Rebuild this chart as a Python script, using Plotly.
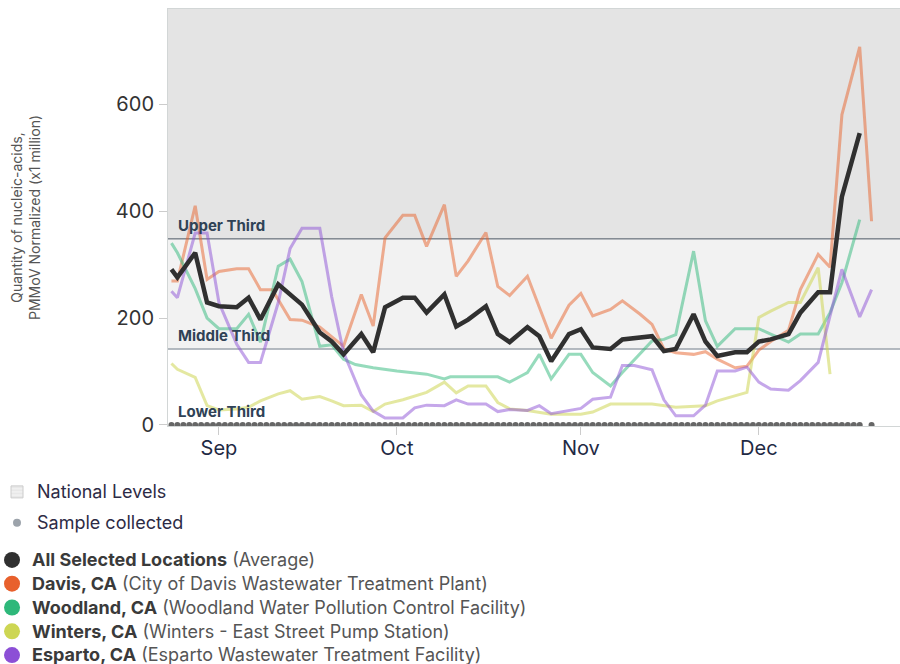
import plotly.graph_objects as go

# ---------------- data ----------------
AVG_DATES = ["2023-08-24","2023-08-25","2023-08-28","2023-08-30","2023-09-01","2023-09-04","2023-09-06",
             "2023-09-08","2023-09-11","2023-09-15","2023-09-18","2023-09-20","2023-09-22","2023-09-25",
             "2023-09-27","2023-09-29","2023-10-02","2023-10-04","2023-10-06","2023-10-09","2023-10-11",
             "2023-10-13","2023-10-16","2023-10-18","2023-10-20","2023-10-23","2023-10-25","2023-10-27",
             "2023-10-30","2023-11-01","2023-11-03","2023-11-06","2023-11-08","2023-11-13","2023-11-15",
             "2023-11-17","2023-11-20","2023-11-22","2023-11-24","2023-11-27","2023-11-29","2023-12-01",
             "2023-12-03","2023-12-06","2023-12-08","2023-12-11","2023-12-13","2023-12-15","2023-12-18"]
AVG_VALUES = [291, 276, 322, 229, 222, 220, 238, 197, 263, 225, 173, 156, 132, 170, 136, 220, 238, 238,
              210, 244, 184, 197, 222, 170, 155, 183, 166, 119, 170, 179, 145, 142, 160, 166, 138, 142,
              207, 156, 129, 136, 136, 156, 160, 170, 210, 248, 248, 427, 546]

DAVIS_DATES = ["2023-08-24","2023-08-25","2023-08-28","2023-08-30","2023-09-01","2023-09-04","2023-09-06",
               "2023-09-08","2023-09-10","2023-09-13","2023-09-15","2023-09-18","2023-09-22","2023-09-25",
               "2023-09-27","2023-09-29","2023-10-02","2023-10-04","2023-10-06","2023-10-09","2023-10-11",
               "2023-10-13","2023-10-16","2023-10-18","2023-10-20","2023-10-23","2023-10-27","2023-10-30",
               "2023-11-01","2023-11-03","2023-11-06","2023-11-08","2023-11-11","2023-11-13","2023-11-15",
               "2023-11-17","2023-11-20","2023-11-22","2023-11-24","2023-11-27","2023-11-29","2023-12-01",
               "2023-12-03","2023-12-06","2023-12-08","2023-12-11","2023-12-13","2023-12-15","2023-12-18",
               "2023-12-20"]
DAVIS_VALUES = [269, 269, 410, 272, 287, 292, 292, 253, 253, 197, 196, 183, 147, 244, 185, 350, 392, 392,
                334, 412, 278, 307, 360, 259, 242, 278, 162, 224, 246, 204, 216, 232, 207, 188, 142, 135,
                132, 137, 123, 107, 110, 140, 156, 177, 253, 319, 295, 580, 707, 381]

WOODLAND_DATES = ["2023-08-24","2023-08-25","2023-08-28","2023-08-30","2023-09-01","2023-09-04","2023-09-06",
                  "2023-09-08","2023-09-11","2023-09-13","2023-09-15","2023-09-18","2023-09-20","2023-09-22",
                  "2023-09-24","2023-09-27","2023-10-01","2023-10-06","2023-10-09","2023-10-10","2023-10-18",
                  "2023-10-20","2023-10-22","2023-10-23","2023-10-25","2023-10-27","2023-10-30","2023-11-01",
                  "2023-11-03","2023-11-06","2023-11-08","2023-11-13","2023-11-15","2023-11-17","2023-11-20",
                  "2023-11-22","2023-11-24","2023-11-27","2023-11-29","2023-12-01","2023-12-03","2023-12-06",
                  "2023-12-08","2023-12-11","2023-12-13","2023-12-15","2023-12-18"]
WOODLAND_VALUES = [340, 322, 255, 200, 180, 180, 207, 155, 297, 310, 268, 147, 150, 123, 113, 107, 101, 95,
                   86, 90, 90, 80, 92, 98, 132, 86, 132, 132, 98, 73, 98, 157, 160, 169, 325, 195, 147, 180,
                   180, 180, 170, 155, 170, 170, 210, 266, 384]

WINTERS_DATES = ["2023-08-24","2023-08-25","2023-08-28","2023-08-30","2023-09-01","2023-09-04","2023-09-06",
                 "2023-09-08","2023-09-11","2023-09-13","2023-09-15","2023-09-18","2023-09-20","2023-09-22",
                 "2023-09-25","2023-09-27","2023-09-29","2023-10-02","2023-10-06","2023-10-09","2023-10-11",
                 "2023-10-13","2023-10-16","2023-10-18","2023-10-20","2023-10-23","2023-10-27","2023-11-01",
                 "2023-11-03","2023-11-06","2023-11-13","2023-11-17","2023-11-22","2023-11-24","2023-11-29",
                 "2023-12-01","2023-12-03","2023-12-06","2023-12-08","2023-12-11","2023-12-13"]
WINTERS_VALUES = [115, 104, 89, 36, 28, 30, 33, 45, 58, 64, 48, 53, 45, 36, 37, 25, 39, 47, 61, 80, 60,
                  73, 73, 42, 30, 27, 20, 20, 24, 39, 39, 33, 36, 45, 61, 201, 213, 229, 229, 294, 95]

ESPARTO_DATES = ["2023-08-24","2023-08-25","2023-08-28","2023-08-30","2023-09-01","2023-09-04","2023-09-06",
                 "2023-09-08","2023-09-11","2023-09-13","2023-09-15","2023-09-18","2023-09-20","2023-09-22",
                 "2023-09-25","2023-09-27","2023-09-29","2023-10-02","2023-10-04","2023-10-06","2023-10-09",
                 "2023-10-11","2023-10-13","2023-10-16","2023-10-18","2023-10-20","2023-10-23","2023-10-25",
                 "2023-10-27","2023-10-30","2023-11-01","2023-11-03","2023-11-06","2023-11-08","2023-11-10",
                 "2023-11-13","2023-11-15","2023-11-17","2023-11-20","2023-11-22","2023-11-24","2023-11-27",
                 "2023-11-29","2023-12-01","2023-12-03","2023-12-06","2023-12-08","2023-12-11","2023-12-15",
                 "2023-12-18","2023-12-20"]
ESPARTO_VALUES = [250, 238, 359, 359, 229, 151, 117, 117, 229, 330, 368, 368, 240, 136, 56, 26, 13, 13,
                  32, 37, 36, 47, 39, 39, 25, 29, 27, 36, 21, 27, 31, 48, 52, 111, 111, 103, 47, 17, 17,
                  37, 101, 101, 108, 80, 67, 65, 83, 117, 291, 202, 253]

SAMPLE_DATES = (
    ["2023-08-%02d" % d for d in [24, 25, 26, 27, 28, 29, 30, 31]]
    + ["2023-09-%02d" % d for d in [1, 2, 3, 4, 5, 6, 7, 8, 9, 10, 11, 12, 13, 14, 15, 16, 17, 18, 19, 20,
                                     21, 22, 23, 24, 25, 26, 27, 28, 29, 30]]
    + ["2023-10-%02d" % d for d in [1, 2, 3, 4, 5, 6, 7, 8, 9, 10, 11, 12, 13, 14, 15, 16, 17, 18, 19, 20,
                                     21, 22, 23, 24, 25, 26, 27, 28, 29, 30, 31]]
    + ["2023-11-%02d" % d for d in [1, 2, 3, 4, 5, 6, 7, 8, 9, 10, 11, 12, 13, 14, 15, 16, 17, 18, 19, 20,
                                     21, 22, 23, 24, 25, 26, 27, 28, 29, 30]]
    + ["2023-12-%02d" % d for d in [1, 2, 3, 4, 5, 6, 7, 8, 9, 10, 11, 12, 13, 14, 15, 16, 17, 18, 20]]
)
SAMPLE_LEVEL = 0

UPPER_THIRD = 348
MIDDLE_THIRD = 142
Y_TICKS = [0, 200, 400, 600]
Y_RANGE = [-2, 778]
X_RANGE = ["2023-08-23 10:00", "2023-12-24 19:00"]

SERIES = [
    ("Davis, CA", "City of Davis Wastewater Treatment Plant", DAVIS_DATES, DAVIS_VALUES,
     "rgba(232,98,42,0.5)", "#e8602c"),
    ("Woodland, CA", "Woodland Water Pollution Control Facility", WOODLAND_DATES, WOODLAND_VALUES,
     "rgba(46,184,122,0.5)", "#2eb87a"),
    ("Winters, CA", "Winters - East Street Pump Station", WINTERS_DATES, WINTERS_VALUES,
     "rgba(205,214,83,0.55)", "#cdd653"),
    ("Esparto, CA", "Esparto Wastewater Treatment Facility", ESPARTO_DATES, ESPARTO_VALUES,
     "rgba(140,79,214,0.5)", "#8c4fd6"),
]

FONT = "Inter, 'Open Sans', sans-serif"
BIG = "<span style='font-size:18px'>%s</span>"

fig = go.Figure()

for name, site, dates, vals, lc, sc in SERIES:
    fig.add_trace(go.Scatter(x=dates, y=vals, mode="lines", line=dict(color=lc, width=3),
                             showlegend=False, hoverinfo="skip"))

fig.add_trace(go.Scatter(x=AVG_DATES, y=AVG_VALUES, mode="lines",
                         line=dict(color="#303030", width=4.5), showlegend=False, hoverinfo="skip"))

fig.add_trace(go.Scatter(x=SAMPLE_DATES, y=[SAMPLE_LEVEL] * len(SAMPLE_DATES), mode="markers",
                         marker=dict(color="#666666", size=6), showlegend=False, hoverinfo="skip"))

# ---- legend entries ----
fig.add_trace(go.Bar(x=[None], y=[None], name=BIG % "National Levels", legend="legend", legendgroup="g1",
                     marker=dict(color="#f0f0f0", line=dict(color="#cccccc", width=1),
                                 pattern=dict(shape="-", fgcolor="#c8c8c8", bgcolor="#f0f0f0", size=4))))
fig.add_trace(go.Scatter(x=[None], y=[None], mode="markers", name=BIG % "Sample collected", legend="legend",
                         legendgroup="g2", marker=dict(color="#9ca3ab", size=8)))

fig.add_trace(go.Scatter(x=[None], y=[None], mode="markers", legend="legend2",
                         name=BIG % "<b>All Selected Locations</b> <span style='color:#555555'>(Average)</span>",
                         marker=dict(color="#303030", size=16)))
for name, site, dates, vals, lc, sc in SERIES:
    fig.add_trace(go.Scatter(x=[None], y=[None], mode="markers", legend="legend2",
                             name=BIG % ("<b>%s</b> <span style='color:#555555'>(%s)</span>" % (name, site)),
                             marker=dict(color=sc, size=16)))

# ---- bands ----
fig.add_shape(type="rect", xref="paper", x0=0, x1=1, yref="y", y0=UPPER_THIRD, y1=Y_RANGE[1],
              fillcolor="#e4e4e4", line_width=0, layer="below")
fig.add_shape(type="rect", xref="paper", x0=0, x1=1, yref="y", y0=MIDDLE_THIRD, y1=UPPER_THIRD,
              fillcolor="#f2f2f2", line_width=0, layer="below")
fig.add_shape(type="line", xref="paper", x0=0, x1=1, yref="y", y0=UPPER_THIRD, y1=UPPER_THIRD,
              line=dict(color="#4b5563", width=1), layer="below")
fig.add_shape(type="line", xref="paper", x0=0, x1=1, yref="y", y0=MIDDLE_THIRD, y1=MIDDLE_THIRD,
              line=dict(color="#6f7b88", width=1), layer="below")

for label, yv in [("Upper Third", UPPER_THIRD), ("Middle Third", MIDDLE_THIRD), ("Lower Third", 0)]:
    fig.add_annotation(text="<b>%s</b>" % label, xref="paper", x=0, xanchor="left", xshift=8,
                       yref="y", y=yv, yanchor="bottom", yshift=2, showarrow=False,
                       font=dict(size=15, color="#2f4256", family=FONT))

fig.update_layout(
    width=900, height=664, autosize=False,
    margin=dict(l=168, r=0, t=9, b=238, autoexpand=False),
    paper_bgcolor="white", plot_bgcolor="white",
    font=dict(family=FONT, color="#333333"),
    showlegend=True,
    legend=dict(x=-0.2336, xanchor="left", y=-0.1175, yanchor="top", traceorder="grouped",
                tracegroupgap=7, font=dict(size=16, color="#2d2b45"), bgcolor="rgba(0,0,0,0)",
                itemclick=False, itemdoubleclick=False),
    legend2=dict(x=-0.2404, xanchor="left", y=-0.2806, yanchor="top", traceorder="normal",
                 font=dict(size=16, color="#3a3a3a"), bgcolor="rgba(0,0,0,0)",
                 itemclick=False, itemdoubleclick=False),
    xaxis=dict(type="date", range=X_RANGE, dtick="M1", tick0="2023-09-01", tickformat="%b",
               ticks="outside", ticklen=8, tickcolor="#cccccc", showline=True, linecolor="#d2d6d6",
               mirror=True, showgrid=False, zeroline=False, automargin=False, ticklabelstandoff=-4,
               tickfont=dict(size=20, color="#1f2a44")),
    yaxis=dict(range=Y_RANGE, tickvals=Y_TICKS, ticks="outside", ticklen=8, tickcolor="#cccccc",
               showline=True, linecolor="#d2d6d6", showgrid=False, zeroline=False, automargin=False,
               tickfont=dict(size=20, color="#333333"), ticklabelstandoff=1,
               title=dict(text="Quantity of nucleic-acids,<br>PMMoV Normalized (x1 million)",
                          font=dict(size=14, color="#555555"), standoff=71)),
    barmode="overlay",
    hovermode=False,
)

POST = ("document.body.style.margin='0px';document.body.style.overflow='hidden';"
        "var gd=document.getElementById('{plot_id}');"
        "Plotly.relayout(gd,{width:900,height:664});")

fig.write_html("out.html", config={"responsive": False, "displayModeBar": False}, post_script=POST)
